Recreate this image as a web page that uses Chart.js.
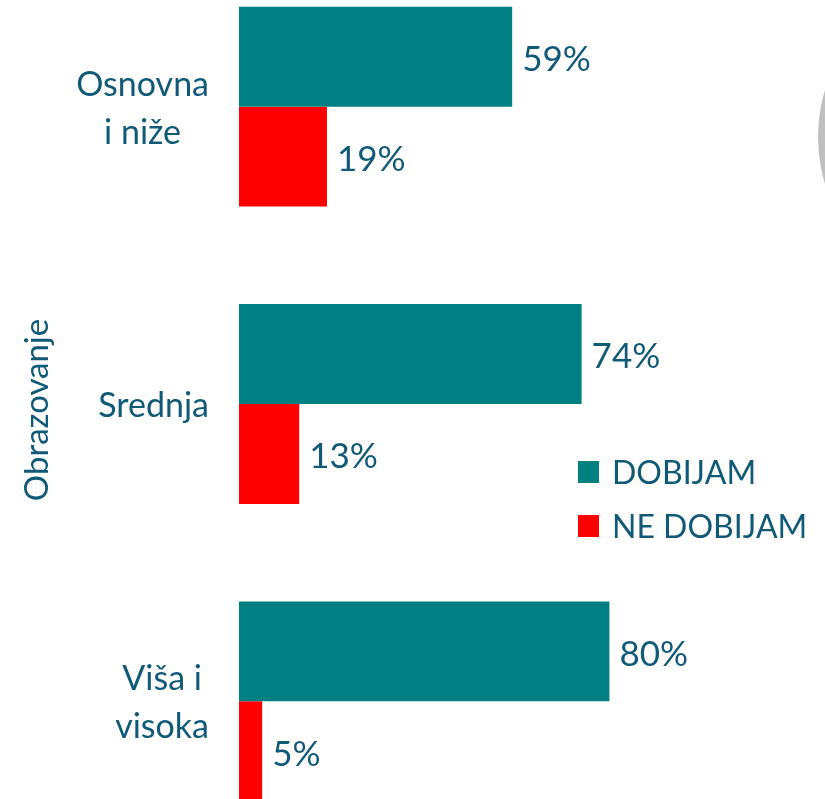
<!DOCTYPE html>
<html><head><meta charset="utf-8">
<script src="https://cdn.jsdelivr.net/npm/chart.js@4/dist/chart.umd.min.js"></script>
<style>
html,body{margin:0;padding:0;background:#fff;overflow:hidden;width:825px;height:799px;}
#wrap{position:absolute;left:0;top:-42px;width:825px;height:892px;}
</style></head><body>
<div id="wrap"><canvas id="c" width="825" height="892"></canvas></div>
<script>
const categories = [["Osnovna","i niže"],["Srednja"],["Viša i","visoka"]];
const seriesNames = ["DOBIJAM","NE DOBIJAM"];
const dobijam = [59, 74, 80];
const neDobijam = [19, 13, 5];
const axisTitle = "Obrazovanje";

const TEXT = "#105A78";
const TEAL = "#008080";
const RED = "#FF0000";
const FONT = "Lato, 'Open Sans', sans-serif";
const OFF = 42; // canvas y = page y + OFF

const decor = {
  id: 'decor',
  afterDatasetsDraw(chart) {
    const ctx = chart.ctx;
    const x = chart.scales.x, y = chart.scales.y;
    ctx.save();
    // value labels
    ctx.font = "35px " + FONT;
    ctx.fillStyle = TEXT;
    ctx.textBaseline = "middle";
    ctx.textAlign = "left";
    chart.data.datasets.forEach((ds, di) => {
      const meta = chart.getDatasetMeta(di);
      meta.data.forEach((bar, i) => {
        ctx.fillText(ds.data[i] + "%", bar.x + 10, bar.y + 3);
      });
    });
    // category labels
    ctx.font = "34px " + FONT;
    ctx.textAlign = "center";
    categories.forEach((lines, i) => {
      const cy = y.getPixelForTick(i);
      const maxW = Math.max(...lines.map(l => ctx.measureText(l).width));
      const cx = 209 - maxW / 2;
      const lh = 48;
      lines.forEach((l, k) => {
        ctx.fillText(l, cx, cy + (k - (lines.length - 1) / 2) * lh + 2);
      });
    });
    // axis title
    ctx.save();
    ctx.translate(37, 410 + OFF);
    ctx.rotate(-Math.PI / 2);
    ctx.textAlign = "center";
    ctx.font = "33px " + FONT;
    ctx.fillText(axisTitle, 0, 0);
    ctx.restore();
    // legend
    const colors = [TEAL, RED];
    ctx.font = "32px " + FONT;
    ctx.textAlign = "left";
    seriesNames.forEach((n, k) => {
      const cy = 472 + k * 54 + OFF;
      ctx.fillStyle = colors[k];
      ctx.fillRect(578, cy - 11, 21, 22);
      ctx.fillStyle = TEXT;
      ctx.fillText(n, 612, cy + 2);
    });
    // partial grey ring at right edge
    ctx.beginPath();
    ctx.arc(979, 137 + OFF, 161, 0, Math.PI * 2);
    ctx.arc(979, 137 + OFF, 135, 0, Math.PI * 2, true);
    ctx.fillStyle = "#BFBFBF";
    ctx.fill();
    ctx.restore();
  }
};

new Chart(document.getElementById('c'), {
  type: 'bar',
  data: {
    labels: categories,
    datasets: [
      { label: seriesNames[0], data: dobijam, backgroundColor: TEAL },
      { label: seriesNames[1], data: neDobijam, backgroundColor: RED }
    ]
  },
  options: {
    indexAxis: 'y',
    responsive: false,
    animation: false,
    layout: { padding: { left: 239, right: 123, top: 0, bottom: 0 } },
    scales: {
      x: { display: false, min: 0, max: 100 },
      y: { display: false, offset: true }
    },
    datasets: { bar: { categoryPercentage: 0.672, barPercentage: 1.0 } },
    plugins: { legend: { display: false }, tooltip: { enabled: false } }
  },
  plugins: [decor]
});
</script>
</body></html>
